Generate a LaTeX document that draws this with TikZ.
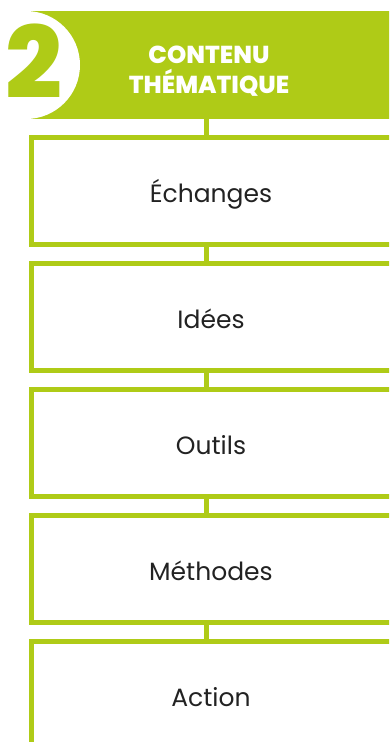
\documentclass[tikz,border=0pt]{standalone}
\usepackage{fontspec}
\setmainfont{Poppins}
\IfFontExistsTF{Poppins ExtraBold}{\newfontfamily\heavy{Poppins ExtraBold}}{\newcommand\heavy{\bfseries}}
\definecolor{lime}{RGB}{175,203,23}
\definecolor{ink}{RGB}{34,34,34}
\begin{document}
\begin{tikzpicture}[x=1pt,y=-1pt,
  box/.style={draw=lime, line width=5pt, minimum width=420pt, minimum height=107pt, anchor=north west, inner sep=0pt},
  lbl/.style={text=ink, anchor=base, inner sep=0pt, font=\fontsize{25}{29}\selectfont},
  ttl/.style={text=white, anchor=base, inner sep=0pt, font=\fontsize{24.5}{29}\selectfont\heavy},
  link/.style={draw=lime, line width=5pt}]
\useasboundingbox (0,0) rectangle (389,742);
\begin{scope}
\clip (0,0) rectangle (389,742);
\node[fill=lime, anchor=north west, minimum width=374pt, minimum height=108pt, inner sep=0pt] (head) at (26,11) {};
\fill[white] (26,65) circle (54);
\node[text=lime, anchor=base, inner sep=0pt, font=\fontsize{100}{100}\selectfont\heavy] (num) at (34,98) {2};
\node[ttl] (t1) at (209,63.5) {CONTENU};
\node[ttl] (t2) at (209,93) {THÉMATIQUE};
\coordinate (cx) at (206.5,0);
\node[box] (b1) at (28.5,134.5) {};
\node[box] (b2) at (28.5,260.5) {};
\node[box] (b3) at (28.5,386.5) {};
\node[box] (b4) at (28.5,512.5) {};
\node[box] (b5) at (28.5,638.5) {};
\draw[link] (head.south -| cx) -- (b1.north -| cx);
\draw[link] (b1.south -| cx) -- (b2.north -| cx);
\draw[link] (b2.south -| cx) -- (b3.north -| cx);
\draw[link] (b3.south -| cx) -- (b4.north -| cx);
\draw[link] (b4.south -| cx) -- (b5.north -| cx);
\node[lbl] (l1) at (211,202) {Échanges};
\node[lbl] (l2) at (211,328) {Idées};
\node[lbl] (l3) at (211,454) {Outils};
\node[lbl] (l4) at (211,580) {Méthodes};
\node[lbl] (l5) at (211,706) {Action};
\end{scope}
\end{tikzpicture}
\end{document}
